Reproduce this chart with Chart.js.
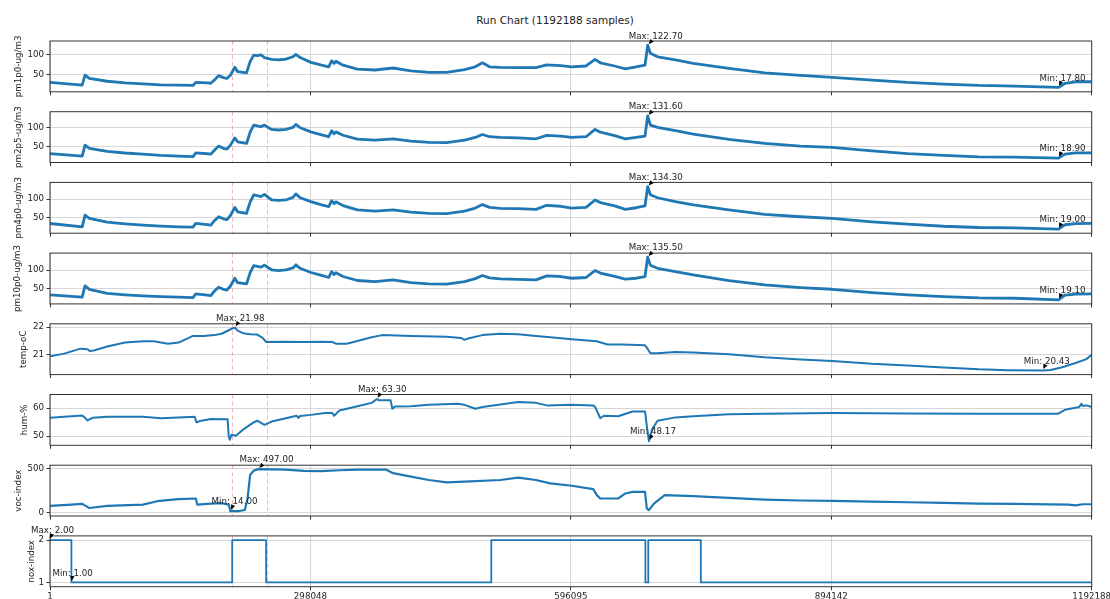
<!DOCTYPE html>
<html>
<head>
<meta charset="utf-8">
<script src="https://cdn.jsdelivr.net/npm/chart.js@4.4.1/dist/chart.umd.min.js"></script>
<style>
  html, body { margin: 0; padding: 0; background: #ffffff; }
  #wrap { position: relative; width: 1110px; height: 599px; overflow: hidden; }
  #wrap canvas { position: absolute; left: 0; top: 0; }
  #title { position: absolute; left: 0; width: 1110px; top: 14px; line-height: 12px;
           text-align: center; font: 10.5px "DejaVu Sans", sans-serif; color: #222; }
</style>
</head>
<body>
<div id="wrap">
  <div id="title">Run Chart (1192188 samples)</div>
  <canvas id="p0" width="1110" height="599"></canvas>
  <canvas id="p1" width="1110" height="599"></canvas>
  <canvas id="p2" width="1110" height="599"></canvas>
  <canvas id="p3" width="1110" height="599"></canvas>
  <canvas id="p4" width="1110" height="599"></canvas>
  <canvas id="p5" width="1110" height="599"></canvas>
  <canvas id="p6" width="1110" height="599"></canvas>
  <canvas id="p7" width="1110" height="599"></canvas>
</div>
<script>
// ---- sample axis ----
const sampleCount = 1192188;
const xTickValues = [1, 298048, 596095, 894142, 1192188];
const eventSamples = [208400, 248500];

// ---- particulate matter (shared sample positions) ----
const pmSamples = [1, 36810, 40100, 45000, 65440, 85890, 106340, 126790, 147240, 163600,
  166870, 179960, 184050, 188140, 193050, 198370, 202460, 206550, 211450, 214730,
  224950, 229040, 233130, 237220, 241310, 245400, 253580, 261760, 269940, 278120,
  281390, 286300, 298570, 310840, 319020, 322290, 325160, 327200, 335380, 351740,
  372190, 392640, 413090, 433540, 453990, 474440, 486710, 494890, 503070, 515340,
  535790, 556240, 568510, 584500, 597140, 613500, 623730, 629860, 646220, 658490,
  670760, 680990, 684000, 687120, 695300, 715750, 736200, 777100, 818000, 858900,
  895300, 940700, 981600, 1022500, 1063400, 1104300, 1154200, 1161560, 1173830, 1192188];

const pm1p0 = [30, 23.3, 48, 40, 33, 29, 26.7, 24, 23.3, 22.5,
  30, 29, 28, 36, 47, 42, 40, 48, 68, 57,
  54, 82, 98, 97, 99, 92, 87.5, 86, 88, 94,
  100, 92, 80, 73, 69, 84, 77.5, 83, 73, 63,
  61, 66, 59, 55, 55, 62, 69, 79, 69, 67.5,
  66.7, 67, 74, 72, 69, 71, 87.5, 79, 71, 64,
  69, 73, 122.7, 102.5, 94, 86, 77.5, 65, 54, 47.5,
  42.5, 36, 30, 26, 22.5, 21, 17.8, 27.5, 31.7, 31.7];

const pm2p5 = [31, 24, 53.6, 44.6, 36.6, 32.5, 29.5, 26, 24, 23,
  33, 30.5, 29.5, 40, 51, 45, 43, 53.6, 73, 62.5,
  58, 88, 107, 105, 103, 107, 95.5, 94, 95.5, 101,
  109, 100, 89, 81, 76, 92, 84, 89, 80, 69.6,
  67, 70.5, 64, 60.7, 60, 67, 74, 82, 76, 74,
  73, 70.5, 79.5, 77.7, 74, 76, 95.5, 88, 79, 70.5,
  74, 77.7, 131.6, 107, 101, 92, 83, 68.8, 58, 51,
  47.3, 38.4, 31, 26, 22.3, 21.4, 18.9, 29.5, 33, 33];

const pm4p0 = [34.5, 25.5, 57, 48, 38, 33.5, 30, 27.5, 25.5, 24.5,
  34.5, 31.5, 30, 42, 52.7, 47, 45, 56, 78, 66,
  62, 92, 112, 110, 107, 113, 98, 97, 98, 105,
  114.5, 104, 93.6, 85, 80, 96, 88, 93, 82.7, 71,
  68, 71, 65, 62, 61, 68, 76, 85.5, 78, 75.5,
  74.5, 72.7, 83.6, 81, 76, 78, 98, 91, 82, 72.7,
  77, 82, 134.3, 112, 104, 93.6, 84.5, 71, 59, 52.7,
  48, 39, 32.7, 27, 23.6, 22.7, 19.0, 31, 34, 34.5];

const pm10p0 = [32.7, 26.4, 57, 48, 37, 33, 30, 28, 26.4, 25.5,
  35.5, 32, 31, 43, 53.6, 48, 46, 57, 78, 66,
  62.7, 93, 112, 110, 108, 113.6, 101, 99, 101, 106,
  114.5, 105, 93.6, 86, 80, 96, 88, 93, 82.7, 71.8,
  69, 73.6, 66, 62.7, 61.8, 69, 77, 85.5, 79, 76.4,
  75, 73.6, 84.5, 82.7, 78, 80, 99, 92, 83, 75.5,
  78, 82.7, 135.5, 113.6, 105, 96, 87, 71.8, 60, 52.7,
  48, 39, 32.7, 28, 24.5, 23.6, 19.1, 31.8, 35, 35.5];

// ---- temperature ----
const tempSamples = [1, 16360, 24540, 34770, 42950, 45800, 51130, 65440, 85890, 106340,
  118610, 134970, 147240, 163600, 175870, 188140, 196320, 208590, 211860, 214730,
  220860, 229040, 237220, 243360, 247450, 269940, 290390, 310840, 323110, 327200,
  339470, 351740, 368100, 380370, 413090, 453990, 470350, 474440, 478530, 494890,
  515340, 535790, 556240, 572600, 597140, 625770, 638040, 654400, 680990, 683850,
  687120, 695300, 715750, 736200, 777100, 818000, 858900, 895300, 940700, 981600,
  1022500, 1063400, 1096120, 1136200, 1145200, 1157470, 1173830, 1186100, 1192188];
const tempC = [20.94, 21.04, 21.12, 21.22, 21.20, 21.13, 21.16, 21.30, 21.44, 21.49,
  21.49, 21.40, 21.44, 21.68, 21.68, 21.71, 21.76, 21.95, 21.98, 21.87,
  21.78, 21.74, 21.73, 21.61, 21.46, 21.47, 21.46, 21.47, 21.46, 21.40,
  21.40, 21.50, 21.63, 21.71, 21.68, 21.65, 21.61, 21.54, 21.59, 21.71,
  21.76, 21.74, 21.68, 21.63, 21.56, 21.49, 21.37, 21.37, 21.34, 21.22,
  21.05, 21.05, 21.10, 21.08, 21.02, 20.91, 20.83, 20.77, 20.67, 20.61,
  20.54, 20.47, 20.44, 20.43, 20.45, 20.54, 20.70, 20.84, 21.00];

// ---- humidity ----
const humSamples = [1, 24540, 36810, 39260, 42950, 49080, 65440, 106340, 126790, 147240,
  165650, 167690, 171780, 184050, 203270, 204500, 205730, 207770, 212680, 220860,
  233130, 237220, 245400, 253580, 269940, 282210, 284260, 286300, 298570, 314930,
  323110, 325160, 331290, 351740, 368100, 374240, 376280, 389780, 391820, 394690,
  413090, 433540, 466260, 474440, 486710, 494890, 515340, 535790, 556240, 568510,
  597140, 621680, 623730, 626590, 629860, 633950, 650310, 666670, 680990, 683030,
  685480, 689170, 695300, 715750, 736200, 777100, 818000, 895300, 940700, 981600,
  1063400, 1153380, 1161560, 1177920, 1180370, 1182010, 1186100, 1192188];
const humPct = [56.6, 57.1, 57.4, 56.8, 55.6, 56.6, 56.9, 56.9, 56.4, 56.7,
  56.9, 54.9, 55.4, 56.1, 56.0, 50.1, 48.7, 50.5, 50.1, 52.3,
  54.9, 55.5, 54.0, 55.2, 56.4, 57.3, 56.5, 57.2, 57.6, 58.3,
  58.3, 57.3, 59.2, 60.7, 61.9, 63.3, 62.8, 62.8, 59.8, 60.6,
  60.7, 61.2, 61.6, 61.2, 59.8, 60.4, 61.3, 62.2, 61.9, 61.0,
  61.2, 61.0, 60.5, 58.6, 56.4, 57.3, 57.1, 58.8, 58.8, 53.7,
  48.17, 52.5, 55.5, 56.7, 57.1, 57.8, 58.0, 58.3, 58.2, 58.1,
  58.0, 58.0, 59.4, 60.4, 61.6, 60.8, 61.0, 60.4];

// ---- VOC index ----
const vocSamples = [1, 24540, 36810, 40900, 44990, 65440, 106340, 122700, 147240, 166870,
  168510, 184050, 196320, 204500, 206550, 216770, 222900, 226000, 229040, 233130,
  238500, 269940, 290390, 310840, 331290, 351740, 384460, 392640, 413090, 433540,
  453990, 474440, 515340, 535790, 556240, 572600, 597140, 621680, 625770, 629860,
  650310, 658490, 666670, 680990, 683030, 685480, 691210, 703480, 736200, 777100,
  818000, 858900, 895300, 940700, 981600, 1022500, 1063400, 1104300, 1165650, 1173830,
  1182010, 1192188];
const vocIndex = [74, 89, 97, 74, 50, 74, 89, 128, 151, 159,
  89, 101, 105, 89, 14, 15, 27, 150, 430, 480,
  497, 492, 477, 473, 484, 492, 492, 450, 411, 372,
  345, 353, 372, 399, 372, 333, 306, 267, 198, 159,
  159, 217, 236, 236, 43, 25, 101, 198, 186, 167,
  147, 136, 132, 124, 116, 109, 101, 97, 89, 81,
  93, 93];

// ---- NOx index (state changes) ----
const noxSamples = [1, 24510, 208540, 247370, 505040, 681400, 684720, 744840, 1192188];
const noxIndex = [2, 1, 2, 1, 2, 1, 2, 1, 1];

// ---- y tick labels ----
const pmTicks = [50, 100];
const tempTicks = [21, 22];
const humTicks = [50, 60];
const vocTicks = [0, 500];
const noxTicks = [1, 2];

// ---------------------------------------------------------------
const BLUE = '#1f77b4';
const FONT = 'DejaVu Sans';
Chart.defaults.font.family = FONT;
Chart.defaults.color = '#222';

const PLOT_LEFT = 50, PLOT_RIGHT = 1091.7;
const FIRST_TOP = 41, PANEL_STEP = 70.7, PANEL_H = 50.8;

const toPoints = (xs, ys) => xs.map((x, i) => ({ x, y: ys[i] }));

// frame around each plot area
const framePlugin = {
  id: 'frame',
  afterDatasetsDraw(chart) {
    const { ctx, chartArea: a } = chart;
    ctx.save();
    ctx.strokeStyle = '#333';
    ctx.lineWidth = 1;
    ctx.strokeRect(a.left, a.top, a.right - a.left, a.bottom - a.top);
    ctx.restore();
  }
};

// dashed markers at event samples
const eventPlugin = {
  id: 'events',
  beforeDatasetsDraw(chart) {
    const { ctx, chartArea: a, scales: { x } } = chart;
    ctx.save();
    ctx.strokeStyle = 'rgba(236, 120, 130, 0.55)';
    ctx.lineWidth = 1;
    ctx.setLineDash([4, 3]);
    eventSamples.forEach(s => {
      const px = Math.round(x.getPixelForValue(s)) + 0.5;
      ctx.beginPath();
      ctx.moveTo(px, a.top);
      ctx.lineTo(px, a.bottom);
      ctx.stroke();
    });
    ctx.restore();
  }
};

// "Max: ..." / "Min: ..." labels with arrowheads at the extreme points
const extremesPlugin = {
  id: 'extremes',
  afterDraw(chart) {
    const data = chart.data.datasets[0].data;
    let iMax = 0, iMin = 0;
    data.forEach((p, i) => {
      if (p.y > data[iMax].y) iMax = i;
      if (p.y < data[iMin].y) iMin = i;
    });
    const xs = chart.scales.x, ys = chart.scales.y, ctx = chart.ctx;
    [['Max', data[iMax]], ['Min', data[iMin]]].forEach(([label, p]) => {
      const px = xs.getPixelForValue(p.x), py = ys.getPixelForValue(p.y);
      const text = label + ': ' + p.y.toFixed(2);
      ctx.save();
      ctx.font = '8.7px "' + FONT + '"';
      const w = ctx.measureText(text).width;
      const tx = px - 19, ty = py - 9;
      // arrowhead
      let dx = px - (tx + w / 2), dy = py - ty;
      const len = Math.hypot(dx, dy) || 1;
      dx /= len; dy /= len;
      const tipX = px - dx * 1.5, tipY = py - dy * 1.5;
      const bx = tipX - dx * 5, by = tipY - dy * 5;
      ctx.fillStyle = '#000';
      ctx.beginPath();
      ctx.moveTo(tipX, tipY);
      ctx.lineTo(bx - dy * 2.2, by + dx * 2.2);
      ctx.lineTo(bx + dy * 2.2, by - dx * 2.2);
      ctx.closePath();
      ctx.fill();
      ctx.fillStyle = '#222';
      ctx.textAlign = 'left';
      ctx.textBaseline = 'middle';
      ctx.fillText(text, tx, ty);
      ctx.restore();
    });
  }
};

function makePanel(index, cfg) {
  const top = FIRST_TOP + index * PANEL_STEP;
  const bottom = top + PANEL_H;
  const last = index === 7;
  const xAxisH = last ? 12 : 4;
  const padLeft = cfg.titleCenter - 5.22;

  new Chart(document.getElementById('p' + index), {
    type: 'line',
    data: {
      datasets: [{
        data: toPoints(cfg.xs, cfg.ys),
        borderColor: BLUE,
        borderWidth: cfg.lineWidth,
        pointRadius: 0,
        tension: 0,
        fill: false,
        stepped: cfg.stepped || false,
        borderJoinStyle: 'round',
        borderCapStyle: 'butt'
      }]
    },
    options: {
      responsive: false,
      animation: false,
      events: [],
      devicePixelRatio: 1,
      layout: {
        autoPadding: false,
        padding: { top: top, bottom: 599 - bottom - xAxisH, left: padLeft, right: 1110 - PLOT_RIGHT }
      },
      plugins: { legend: { display: false }, tooltip: { enabled: false }, title: { display: false } },
      scales: {
        x: {
          type: 'linear',
          min: 1,
          max: sampleCount,
          afterBuildTicks: s => { s.ticks = xTickValues.map(v => ({ value: v })); },
          afterFit: s => { s.height = xAxisH; s.paddingLeft = 0; s.paddingRight = 0; },
          border: { display: false },
          grid: { color: '#d6d6d6', lineWidth: 1, drawTicks: true, tickLength: 3.5, tickColor: '#333' },
          ticks: {
            display: last,
            padding: 1,
            maxRotation: 0,
            autoSkip: false,
            font: { size: 8.7, family: FONT },
            color: '#222',
            callback: v => String(v)
          }
        },
        y: {
          type: 'linear',
          min: cfg.yMin,
          max: cfg.yMax,
          afterBuildTicks: s => { s.ticks = cfg.yTicks.map(v => ({ value: v })); },
          afterFit: s => { s.width = PLOT_LEFT - padLeft; s.paddingTop = 0; s.paddingBottom = 0; },
          border: { display: false },
          grid: { color: '#d6d6d6', lineWidth: 1, drawTicks: true, tickLength: 3.5, tickColor: '#333' },
          ticks: {
            padding: 2.5,
            font: { size: 8.7, family: FONT },
            color: '#222',
            callback: v => String(v)
          },
          title: {
            display: true,
            text: cfg.title,
            padding: { top: 0, bottom: 0 },
            font: { size: 8.7, family: FONT, lineHeight: 1.2 },
            color: '#222'
          }
        }
      }
    },
    plugins: [eventPlugin, framePlugin, extremesPlugin]
  });
}

makePanel(0, { xs: pmSamples, ys: pm1p0, yMin: 6.7, yMax: 133.3, yTicks: pmTicks, title: 'pm1p0-ug/m3', titleCenter: 18.5, lineWidth: 2.8 });
makePanel(1, { xs: pmSamples, ys: pm2p5, yMin: 7.1, yMax: 142.9, yTicks: pmTicks, title: 'pm2p5-ug/m3', titleCenter: 18.5, lineWidth: 2.8 });
makePanel(2, { xs: pmSamples, ys: pm4p0, yMin: 8.2, yMax: 145.5, yTicks: pmTicks, title: 'pm4p0-ug/m3', titleCenter: 18.5, lineWidth: 2.8 });
makePanel(3, { xs: pmSamples, ys: pm10p0, yMin: 8.2, yMax: 146.4, yTicks: pmTicks, title: 'pm10p0-ug/m3', titleCenter: 18, lineWidth: 2.8 });
makePanel(4, { xs: tempSamples, ys: tempC, yMin: 20.28, yMax: 22.12, yTicks: tempTicks, title: 'temp-oC', titleCenter: 24, lineWidth: 2 });
makePanel(5, { xs: humSamples, ys: humPct, yMin: 46.7, yMax: 64.9, yTicks: humTicks, title: 'hum-%', titleCenter: 25, lineWidth: 2 });
makePanel(6, { xs: vocSamples, ys: vocIndex, yMin: -42, yMax: 542, yTicks: vocTicks, title: 'voc-index', titleCenter: 19, lineWidth: 2.2 });
makePanel(7, { xs: noxSamples, ys: noxIndex, yMin: 0.9, yMax: 2.1, yTicks: noxTicks, title: 'nox-index', titleCenter: 31.5, lineWidth: 1.8, stepped: 'before' });
</script>
</body>
</html>
